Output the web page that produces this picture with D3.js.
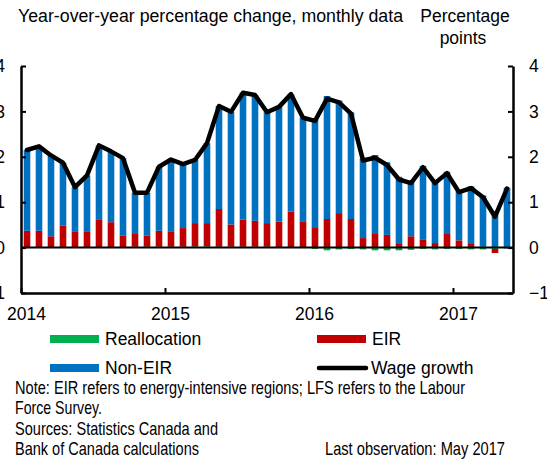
<!DOCTYPE html>
<html>
<head>
<meta charset="utf-8">
<script src="https://cdn.jsdelivr.net/npm/d3@7"></script>
<style>
	body { margin: 0; background: #fff; }
	svg { display: block; font-family: 'Liberation Sans', Arial, sans-serif; }
</style>
</head>
<body>
<div id="viz"></div>
<script>
	const years = ['2014', '2015', '2016', '2017'];
	const months = d3.utcMonths(new Date(Date.UTC(2014, 0, 1)), new Date(Date.UTC(2017, 5, 1)));

	// percentage points, Jan 2014 .. May 2017
	const wageGrowth = [
		2.15, 2.23, 2.03, 1.87, 1.33, 1.59, 2.25, 2.12, 1.97, 1.21, 1.21, 1.78,
		1.94, 1.84, 1.93, 2.30, 3.12, 2.99, 3.41, 3.36, 2.98, 3.10, 3.38, 2.86,
		2.79, 3.28, 3.20, 2.95, 1.92, 1.98, 1.82, 1.50, 1.42, 1.77, 1.42, 1.64,
		1.22, 1.31, 1.11, 0.68, 1.30
	];
	const eir = [
		0.36, 0.36, 0.25, 0.47, 0.35, 0.35, 0.60, 0.55, 0.26, 0.28, 0.25, 0.35,
		0.34, 0.41, 0.51, 0.51, 0.83, 0.49, 0.60, 0.57, 0.52, 0.56, 0.79, 0.58,
		0.45, 0.63, 0.76, 0.63, 0.21, 0.30, 0.28, 0.08, 0.25, 0.17, 0.10, 0.30,
		0.16, 0.08, 0.02, -0.09, 0.01
	];
	const reallocation = [
		0.01, 0.01, 0.00, 0.01, 0.01, 0.01, 0.01, 0.01, 0.01, 0.02, 0.02, 0.02,
		0.02, 0.02, 0.03, 0.03, 0.02, 0.02, 0.02, 0.02, 0.02, 0.01, 0.00, -0.01,
		-0.03, -0.06, -0.04, -0.03, -0.04, -0.06, -0.06, -0.06, -0.05, -0.03, -0.04, -0.03,
		-0.03, -0.04, -0.04, -0.03, -0.02
	];
	const nonEir = [
		1.78, 1.86, 1.78, 1.39, 0.97, 1.23, 1.64, 1.56, 1.70, 0.91, 0.94, 1.41,
		1.58, 1.41, 1.39, 1.76, 2.27, 2.48, 2.79, 2.77, 2.44, 2.53, 2.59, 2.29,
		2.37, 2.71, 2.48, 2.35, 1.75, 1.74, 1.60, 1.48, 1.22, 1.63, 1.36, 1.37,
		1.09, 1.27, 1.13, 0.80, 1.31
	];
	const yTicks = [-1, 0, 1, 2, 3, 4];

	const colors = { realloc: '#00b050', eir: '#c00000', nonEir: '#0070c0' };

	let width = 547, height = 462;
	let plot = { left: 21, right: 513, top: 66, bottom: 293 };

	let svg = d3.select('#viz').append('svg')
		.attr('width', width)
		.attr('height', height);

	let data = months.map((m, i) => ({
		month: m,
		realloc: reallocation[i],
		eir: eir[i],
		nonEir: nonEir[i],
		wage: wageGrowth[i]
	}));

	let x = d3.scaleBand()
		.domain(months)
		.range([plot.left, plot.right])
		.paddingInner(0.45)
		.paddingOuter(0.225);

	let xm = d3.scaleLinear()
		.domain([0, months.length])
		.range([plot.left, plot.right]);

	let y = d3.scaleLinear()
		.domain([-1, 4])
		.range([plot.bottom, plot.top]);

	let series = d3.stack()
		.keys(['realloc', 'eir', 'nonEir'])
		.offset(d3.stackOffsetDiverging)(data);

	svg.append('g')
		.selectAll('g')
		.data(series)
		.join('g')
		.attr('fill', s => colors[s.key])
		.selectAll('rect')
		.data(s => s)
		.join('rect')
		.attr('x', d => x(d.data.month))
		.attr('width', x.bandwidth())
		.attr('y', d => y(Math.max(d[0], d[1])))
		.attr('height', d => Math.abs(y(d[0]) - y(d[1])));

	// zero line
	svg.append('line')
		.attr('x1', plot.left)
		.attr('x2', plot.right)
		.attr('y1', y(0))
		.attr('y2', y(0))
		.attr('stroke', '#000')
		.attr('stroke-width', 2);

	let line = d3.line()
		.x(d => x(d.month) + x.bandwidth() / 2)
		.y(d => y(d.wage));

	svg.append('path')
		.datum(data)
		.attr('fill', 'none')
		.attr('stroke', '#000')
		.attr('stroke-width', 4.5)
		.attr('stroke-linejoin', 'round')
		.attr('stroke-linecap', 'round')
		.attr('d', line);

	let styleAxis = g => {
		g.select('.domain').attr('stroke-width', 2.5);
		g.selectAll('.tick line').attr('stroke-width', 2);
		g.selectAll('text')
			.attr('font-size', 17.5)
			.attr('font-family', "'Liberation Sans', Arial, sans-serif")
			.attr('fill', '#000');
	};

	svg.append('g')
		.attr('transform', `translate(${plot.left},0)`)
		.call(d3.axisLeft(y).tickValues(yTicks).tickFormat(d3.format('d'))
			.tickSize(-5).tickSizeOuter(0).tickPadding(16))
		.call(styleAxis);

	svg.append('g')
		.attr('transform', `translate(${plot.right},0)`)
		.call(d3.axisRight(y).tickValues(yTicks).tickFormat(d3.format('d'))
			.tickSize(-5).tickSizeOuter(0).tickPadding(16))
		.call(styleAxis);

	let xAxis = svg.append('g')
		.attr('transform', `translate(0,${plot.bottom})`)
		.call(d3.axisBottom(xm)
			.tickValues(years.map((d, i) => i * 12))
			.tickSize(-5)
			.tickSizeOuter(0)
			.tickFormat((d, i) => years[i]))
		.call(styleAxis);

	xAxis.selectAll('.tick text')
		.attr('x', x.step() / 2 - 1)
		.attr('y', 15)
		.attr('dy', '0.71em');

	// titles
	svg.append('text')
		.attr('x', 18)
		.attr('y', 22)
		.attr('font-size', 17.5)
		.attr('textLength', 385)
		.attr('lengthAdjust', 'spacingAndGlyphs')
		.text('Year-over-year percentage change, monthly data');

	svg.append('text')
		.attr('x', 465)
		.attr('y', 22)
		.attr('text-anchor', 'middle')
		.attr('font-size', 17.5)
		.text('Percentage');

	svg.append('text')
		.attr('x', 463)
		.attr('y', 44)
		.attr('text-anchor', 'middle')
		.attr('font-size', 17.5)
		.text('points');

	// legend
	let legend = [
		{ label: 'Reallocation', color: colors.realloc, x: 50, y: 339, type: 'bar' },
		{ label: 'EIR', color: colors.eir, x: 317, y: 339, type: 'bar' },
		{ label: 'Non-EIR', color: colors.nonEir, x: 50, y: 368, type: 'bar' },
		{ label: 'Wage growth', color: '#000', x: 317, y: 368, type: 'line' }
	];

	let lg = svg.append('g')
		.selectAll('g')
		.data(legend)
		.join('g')
		.attr('transform', d => `translate(${d.x},${d.y})`);

	lg.filter(d => d.type === 'bar')
		.append('rect')
		.attr('x', 0)
		.attr('y', -4)
		.attr('width', 49)
		.attr('height', 8)
		.attr('fill', d => d.color);

	lg.filter(d => d.type === 'line')
		.append('line')
		.attr('x1', 2)
		.attr('x2', 49)
		.attr('stroke', '#000')
		.attr('stroke-width', 4.5)
		.attr('stroke-linecap', 'round');

	lg.append('text')
		.attr('x', d => d.type === 'line' ? 54 : 55)
		.attr('y', 6)
		.attr('font-size', 17.5)
		.text(d => d.label);

	// notes, set in a condensed face in the original
	let notes = [
		{ text: 'Note: EIR refers to energy-intensive regions; LFS refers to the Labour', x: 15, y: 394, w: 450 },
		{ text: 'Force Survey.', x: 15, y: 414, w: 87 },
		{ text: 'Sources: Statistics Canada and', x: 15, y: 435, w: 203 },
		{ text: 'Bank of Canada calculations', x: 15, y: 455, w: 184 },
		{ text: 'Last observation: May 2017', x: 325, y: 455, w: 180 }
	];

	svg.append('g')
		.selectAll('text')
		.data(notes)
		.join('text')
		.attr('x', d => d.x)
		.attr('y', d => d.y)
		.attr('font-size', 18.5)
		.attr('textLength', d => d.w)
		.attr('lengthAdjust', 'spacingAndGlyphs')
		.text(d => d.text);
</script>
</body>
</html>
